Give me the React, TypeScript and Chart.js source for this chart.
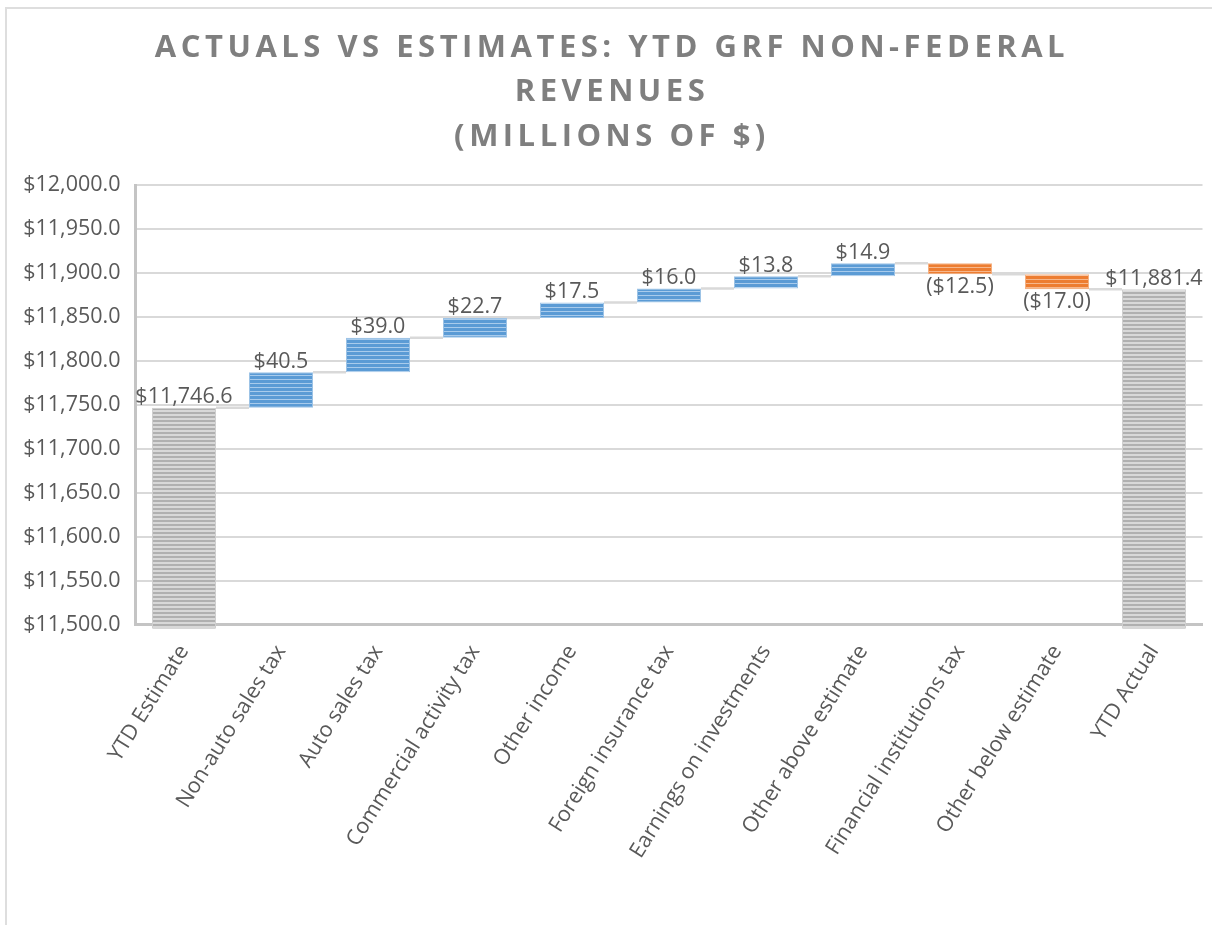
import React, { useEffect, useRef } from "react";
import { Chart, registerables } from "chart.js";

Chart.register(...registerables);

const titleLines = ["ACTUALS VS ESTIMATES: YTD GRF NON-FEDERAL", "REVENUES", "(MILLIONS OF $)"];
const categories = [
  "YTD Estimate",
  "Non-auto sales tax",
  "Auto sales tax",
  "Commercial activity tax",
  "Other income",
  "Foreign insurance tax",
  "Earnings on investments",
  "Other above estimate",
  "Financial institutions tax",
  "Other below estimate",
  "YTD Actual",
];
const startTotal = 11746.6;
const changes = [40.5, 39.0, 22.7, 17.5, 16.0, 13.8, 14.9, -12.5, -17.0];
const endTotal = 11881.4;
const yMin = 11500;
const yMax = 12000;
const yStep = 50;

const FONT = "'Open Sans', 'Liberation Sans', sans-serif";
const TEXT = "#595959";

function stripe(colors: string[]): CanvasPattern | string {
  const c = document.createElement("canvas");
  c.width = 1;
  c.height = colors.length;
  const x = c.getContext("2d");
  if (!x) return colors[0];
  colors.forEach((col, i) => {
    x.fillStyle = col;
    x.fillRect(0, i, 1, 1);
  });
  return x.createPattern(c, "repeat") || colors[0];
}

function fmtNum(v: number) {
  return v.toLocaleString("en-US", { minimumFractionDigits: 1, maximumFractionDigits: 1 });
}

export default function App() {
  const ref = useRef<HTMLCanvasElement | null>(null);

  useEffect(() => {
    if (!ref.current) return;
    const ranges: [number, number][] = [];
    const kinds: string[] = [];
    const labels: string[] = [];
    ranges.push([0, startTotal]);
    kinds.push("total");
    labels.push("$" + fmtNum(startTotal));
    let cur = startTotal;
    changes.forEach((d) => {
      ranges.push([cur, cur + d]);
      kinds.push(d >= 0 ? "up" : "down");
      labels.push(d >= 0 ? "$" + fmtNum(d) : "($" + fmtNum(-d) + ")");
      cur += d;
    });
    ranges.push([0, endTotal]);
    kinds.push("total");
    labels.push("$" + fmtNum(endTotal));

    const grayP = stripe(["#b0b0b0", "#b0b0b0", "#d8d8d8", "#d8d8d8"]);
    const blueP = stripe(["#5b9bd5", "#5b9bd5", "#5b9bd5", "#a8cbec"]);
    const orangeP = stripe(["#ed7d31", "#ed7d31", "#ed7d31", "#f6b78c"]);
    const bg = kinds.map((k) => (k === "total" ? grayP : k === "up" ? blueP : orangeP));
    const bc = kinds.map((k) => (k === "total" ? "#cfcfcf" : k === "up" ? "#9dc3e6" : "#f4b183"));

    const connectorPlugin = {
      id: "connectors",
      beforeDatasetsDraw(chart: any) {
        const meta = chart.getDatasetMeta(0);
        const ys = chart.scales.y;
        const ctx = chart.ctx;
        ctx.save();
        ctx.strokeStyle = "#d9d9d9";
        ctx.lineWidth = 2.5;
        for (let i = 0; i < ranges.length - 1; i++) {
          const a = meta.data[i];
          const b = meta.data[i + 1];
          const v = ranges[i][1];
          const y = ys.getPixelForValue(v);
          ctx.beginPath();
          ctx.moveTo(a.x + a.width / 2, y);
          ctx.lineTo(b.x - b.width / 2, y);
          ctx.stroke();
        }
        ctx.restore();
      },
    };

    const labelPlugin = {
      id: "valueLabels",
      afterDatasetsDraw(chart: any) {
        const meta = chart.getDatasetMeta(0);
        const ys = chart.scales.y;
        const ctx = chart.ctx;
        ctx.save();
        ctx.fillStyle = TEXT;
        ctx.font = `21.5px ${FONT}`;
        ctx.textAlign = "center";
        meta.data.forEach((el: any, i: number) => {
          const [lo, hi] = ranges[i];
          const top = ys.getPixelForValue(Math.max(lo, hi));
          const bot = ys.getPixelForValue(Math.min(lo, hi));
          if (kinds[i] === "down") {
            ctx.textBaseline = "top";
            ctx.fillText(labels[i], el.x, bot + 2);
          } else {
            ctx.textBaseline = "bottom";
            ctx.fillText(labels[i], el.x, top);
          }
        });
        ctx.restore();
      },
    };

    const titlePlugin = {
      id: "spacedTitle",
      afterDraw(chart: any) {
        const ctx = chart.ctx as any;
        ctx.save();
        ctx.fillStyle = "#7f7f7f";
        ctx.font = `bold 31px ${FONT}`;
        ctx.textAlign = "center";
        ctx.textBaseline = "middle";
        ctx.letterSpacing = "4.5px";
        const cx = 612;
        titleLines.forEach((t, i) => {
          ctx.fillText(t, cx, 48 + i * 44.5);
        });
        ctx.letterSpacing = "0px";
        ctx.restore();
      },
    };

    const chart = new Chart(ref.current, {
      type: "bar",
      data: {
        labels: categories,
        datasets: [
          {
            data: ranges as any,
            backgroundColor: bg as any,
            borderColor: bc,
            borderWidth: 1,
            borderSkipped: false,
            categoryPercentage: 1,
            barPercentage: 0.66,
            clip: { left: 0, top: 0, right: 0, bottom: 4 } as any,
          },
        ],
      },
      options: {
        responsive: false,
        animation: false,
        layout: { padding: { top: 185, right: 9.5, left: 0, bottom: 0 } },
        plugins: {
          legend: { display: false },
          title: { display: false },
          tooltip: { enabled: false },
        },
        scales: {
          x: {
            grid: { display: false, drawTicks: false },
            border: { display: true, color: "#c4c4c4", width: 3 },
            ticks: {
              color: TEXT,
              font: { family: FONT, size: 21.5 },
              minRotation: 58,
              maxRotation: 58,
              padding: 16,
              autoSkip: false,
            },
            afterFit(scale: any) {
              scale.height = 300.5;
            },
          },
          y: {
            min: yMin,
            max: yMax,
            grid: { color: "#d9d9d9", lineWidth: 2, drawTicks: false },
            border: { display: true, color: "#c4c4c4", width: 3 },
            ticks: {
              stepSize: yStep,
              color: TEXT,
              font: { family: FONT, size: 21.5 },
              padding: 15,
              callback: (v: any) => "$" + fmtNum(Number(v)),
            },
            afterFit(scale: any) {
              scale.width = 135.5;
            },
          },
        },
      },
      plugins: [connectorPlugin, labelPlugin, titlePlugin],
    });
    return () => chart.destroy();
  }, []);

  return (
    <>
      <div
        style={{
          position: "fixed",
          left: 5,
          top: 7,
          right: 0,
          bottom: 0,
          borderLeft: "2px solid #dedede",
          borderTop: "2px solid #dedede",
          boxSizing: "border-box",
          background: "#ffffff",
        }}
      />
      <canvas
        ref={ref}
        width={1212}
        height={925}
        style={{ position: "fixed", left: 0, top: 0, width: 1212, height: 925 }}
      />
    </>
  );
}
